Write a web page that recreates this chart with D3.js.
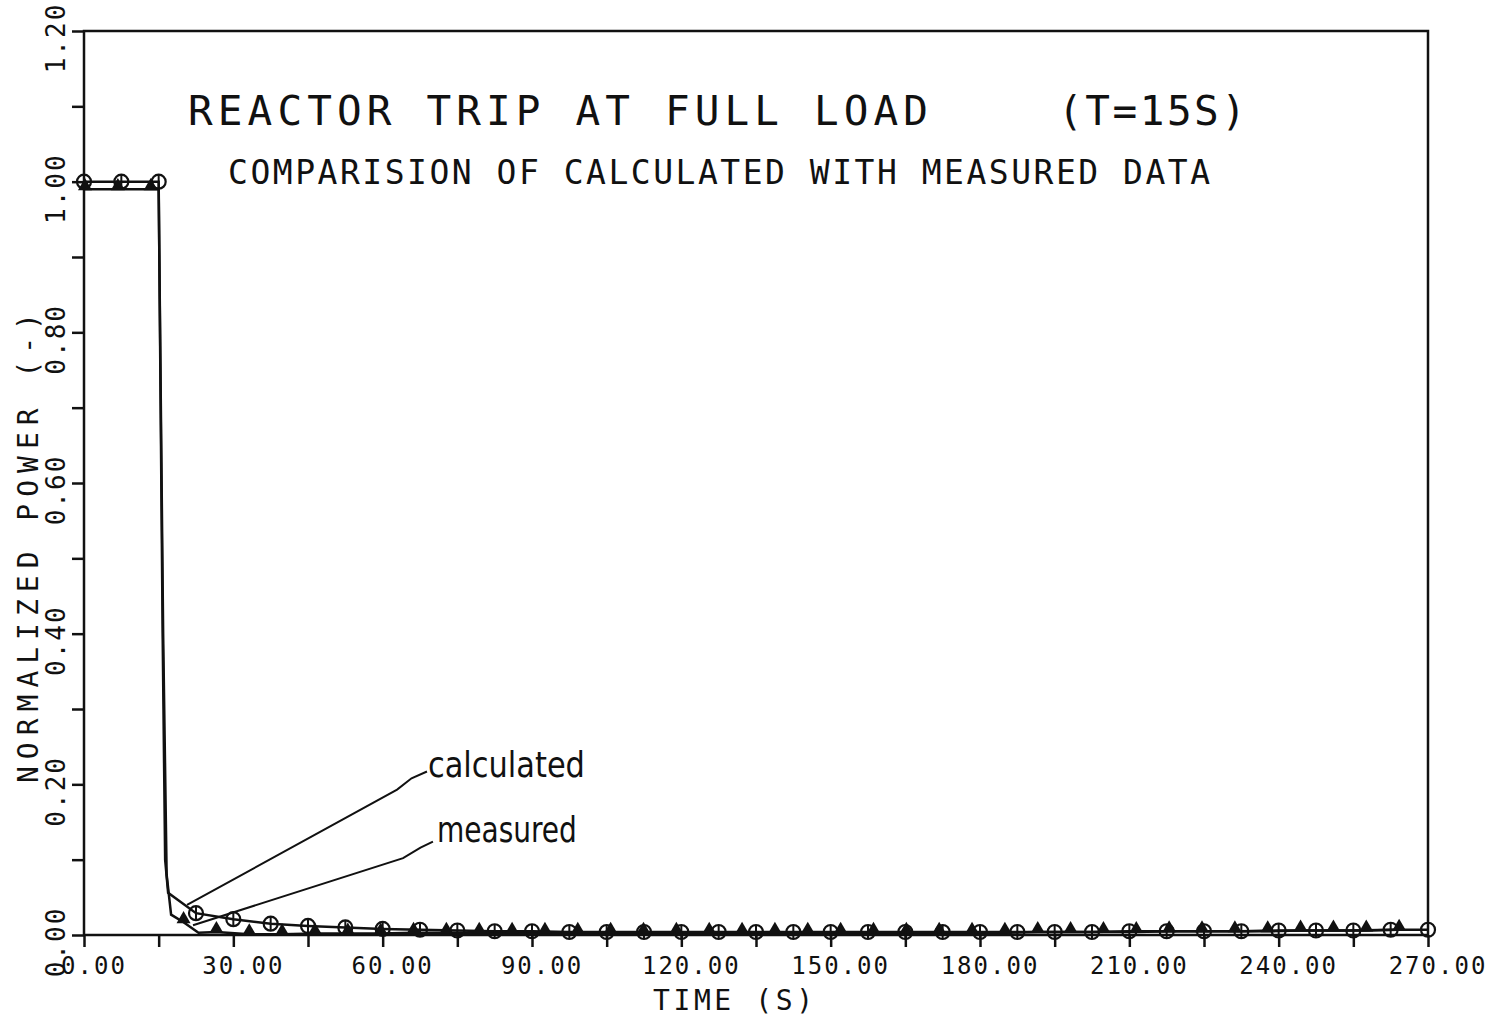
<!DOCTYPE html>
<html>
<head>
<meta charset="utf-8">
<script src="https://cdn.jsdelivr.net/npm/d3@7"></script>
<style>
  body { margin: 0; background: #fff; }
  svg { display: block; }
  text { font-family: "DejaVu Sans Mono", monospace; fill: #111; }
  .note { font-family: "DejaVu Sans Condensed", "DejaVu Sans", sans-serif; }
</style>
</head>
<body>
<div id="chart"></div>
<script>
// tick values / labels
var xTicks = [0, 15, 30, 45, 60, 75, 90, 105, 120, 135, 150, 165, 180, 195, 210, 225, 240, 255, 270];
var xLabelVals = [0, 30, 60, 90, 120, 150, 180, 210, 240, 270];
var xLabels = ["0.00", "30.00", "60.00", "90.00", "120.00", "150.00", "180.00", "210.00", "240.00", "270.00"];
var yTicks = [0, 0.1, 0.2, 0.3, 0.4, 0.5, 0.6, 0.7, 0.8, 0.9, 1.0, 1.1, 1.2];
var yLabelVals = [0, 0.2, 0.4, 0.6, 0.8, 1.0, 1.2];
var yLabels = ["0.00", "0.20", "0.40", "0.60", "0.80", "1.00", "1.20"];

// calculated power, circle samples every 7.5 s
var calcTime = [0, 7.5, 15, 22.5, 30, 37.5, 45, 52.5, 60, 67.5, 75, 82.5, 90, 97.5, 105, 112.5, 120, 127.5,
  135, 142.5, 150, 157.5, 165, 172.5, 180, 187.5, 195, 202.5, 210, 217.5, 225, 232.5, 240, 247.5, 255, 262.5, 270];
var calcPower = [1.0, 1.0, 1.0, 0.029, 0.021, 0.015, 0.012, 0.010, 0.008, 0.007, 0.006, 0.005, 0.005, 0.004, 0.004, 0.004, 0.004, 0.004,
  0.004, 0.004, 0.004, 0.004, 0.004, 0.004, 0.004, 0.004, 0.004, 0.004, 0.005, 0.005, 0.005, 0.005, 0.006, 0.006, 0.006, 0.007, 0.007];
// calculated curve during the trip (no markers)
var calcTripTime = [15.8, 16.3, 16.9];
var calcTripPower = [0.40, 0.10, 0.056];

// measured power, triangle samples
var measTime = [0.2, 6.8, 13.4, 20, 26.6, 33.2, 39.8, 46.4, 53, 59.6, 66.2, 72.8, 79.4, 86, 92.6, 99.2, 105.8, 112.4,
  119, 125.6, 132.2, 138.8, 145.4, 152, 158.6, 165.2, 171.8, 178.4, 185, 191.6, 198.2, 204.8, 211.4, 218, 224.6,
  231.2, 237.8, 244.4, 251, 257.6, 264.2];
var measPower = [0.99, 0.99, 0.99, 0.017, 0.004, 0.001, 0.001, 0.002, 0.002, 0.002, 0.003, 0.003, 0.003, 0.003, 0.003, 0.003, 0.003, 0.003,
  0.003, 0.003, 0.003, 0.003, 0.003, 0.003, 0.003, 0.003, 0.003, 0.003, 0.003, 0.004, 0.004, 0.004, 0.004, 0.005, 0.005,
  0.005, 0.005, 0.006, 0.006, 0.006, 0.007];
var measTripTime = [15, 15.9, 16.6, 17.5, 23];
var measTripPower = [0.99, 0.40, 0.08, 0.027, 0.003];

// leader lines of the two notes, in data units
var calcLeader = [[20.7, 0.040], [62.9, 0.193], [65.8, 0.208], [68.9, 0.217]];
var measLeader = [[21.9, 0.013], [64.1, 0.102], [67.6, 0.116], [70.1, 0.124]];

var width = 1507,
    height = 1021;

var svg = d3.select("#chart")
  .append("svg")
  .attr("width", width)
  .attr("height", height);

var x = d3.scaleLinear().domain([0, 270]).range([84, 1428]);
var y = d3.scaleLinear().domain([0, 1.2]).range([935, 31]);

// frame
svg.append("rect")
  .attr("x", x(0)).attr("y", y(1.2))
  .attr("width", x(270) - x(0)).attr("height", y(0) - y(1.2))
  .attr("fill", "none").attr("stroke", "#111").attr("stroke-width", 2.5);

// axes (ticks only)
var gx = svg.append("g")
  .attr("transform", "translate(0," + y(0) + ")")
  .call(d3.axisBottom(x).tickValues(xTicks).tickSize(12).tickFormat(""));
var gy = svg.append("g")
  .attr("transform", "translate(" + x(0) + ",0)")
  .call(d3.axisLeft(y).tickValues(yTicks).tickSize(12).tickFormat(""));
[gx, gy].forEach(function (g) {
  g.select(".domain").remove();
  g.selectAll("line").attr("stroke", "#111").attr("stroke-width", 2.5);
});

// x tick labels
svg.selectAll(".xlab")
  .data(xLabelVals)
  .enter().append("text")
  .attr("class", "xlab")
  .attr("x", function (d) { return x(d) + 10 })
  .attr("y", 974)
  .attr("text-anchor", "middle")
  .attr("font-size", 24)
  .attr("letter-spacing", 2)
  .text(function (d, i) { return xLabels[i] });

// y tick labels, rotated
svg.selectAll(".ylab")
  .data(yLabelVals)
  .enter().append("text")
  .attr("class", "ylab")
  .attr("transform", function (d) { return "translate(65," + (y(d) + 7) + ") rotate(-90)" })
  .attr("text-anchor", "middle")
  .attr("font-size", 26)
  .attr("letter-spacing", 2)
  .text(function (d, i) { return yLabels[i] });

// axis titles
svg.append("text")
  .attr("x", 733).attr("y", 1010)
  .attr("text-anchor", "middle")
  .attr("font-size", 28)
  .attr("textLength", 160).attr("lengthAdjust", "spacing")
  .text("TIME (S)");

svg.append("text")
  .attr("transform", "translate(38,548) rotate(-90)")
  .attr("text-anchor", "middle")
  .attr("font-size", 28)
  .attr("textLength", 470).attr("lengthAdjust", "spacing")
  .text("NORMALIZED POWER (-)");

// titles
svg.append("text")
  .attr("x", 188).attr("y", 125)
  .attr("font-size", 41)
  .attr("textLength", 740).attr("lengthAdjust", "spacing")
  .text("REACTOR TRIP AT FULL LOAD");
svg.append("text")
  .attr("x", 1058).attr("y", 125)
  .attr("font-size", 41)
  .attr("textLength", 188).attr("lengthAdjust", "spacing")
  .text("(T=15S)");
svg.append("text")
  .attr("x", 228).attr("y", 184)
  .attr("font-size", 33)
  .attr("textLength", 982).attr("lengthAdjust", "spacing")
  .text("COMPARISION OF CALCULATED WITH MEASURED DATA");

// build curves
function merge(t1, p1, t2, p2) {
  var pts = t1.map(function (t, i) { return [t, p1[i]] })
    .concat(t2.map(function (t, i) { return [t, p2[i]] }));
  return pts.sort(function (a, b) { return a[0] - b[0] });
}
var line = d3.line()
  .x(function (d) { return x(d[0]) })
  .y(function (d) { return y(d[1]) });

svg.append("path")
  .datum(merge(measTime, measPower, measTripTime, measTripPower))
  .attr("d", line)
  .attr("fill", "none").attr("stroke", "#111").attr("stroke-width", 2.5);

svg.append("path")
  .datum(merge(calcTime, calcPower, calcTripTime, calcTripPower))
  .attr("d", line)
  .attr("fill", "none").attr("stroke", "#111").attr("stroke-width", 2.5);

// measured markers: filled triangles
svg.selectAll(".tri")
  .data(measTime)
  .enter().append("path")
  .attr("class", "tri")
  .attr("transform", function (d, i) { return "translate(" + x(d) + "," + (y(measPower[i]) - 3) + ")" })
  .attr("d", d3.symbol().type(d3.symbolTriangle).size(85))
  .attr("fill", "#111");

// calculated markers: open circles with a vertical stroke
var circ = svg.selectAll(".circ")
  .data(calcTime)
  .enter().append("g")
  .attr("class", "circ")
  .attr("transform", function (d, i) { return "translate(" + x(d) + "," + y(calcPower[i]) + ")" });
circ.append("circle")
  .attr("r", 7)
  .attr("fill", "none").attr("stroke", "#111").attr("stroke-width", 2.2);
circ.append("line")
  .attr("y1", -7).attr("y2", 7)
  .attr("stroke", "#111").attr("stroke-width", 2);

// annotations
[calcLeader, measLeader].forEach(function (pts) {
  svg.append("path")
    .datum(pts)
    .attr("d", line)
    .attr("fill", "none").attr("stroke", "#111").attr("stroke-width", 2);
});

svg.append("text")
  .attr("class", "note")
  .attr("x", x(69.1)).attr("y", y(0.21))
  .attr("font-size", 36)
  .attr("textLength", 157).attr("lengthAdjust", "spacingAndGlyphs")
  .text("calculated");
svg.append("text")
  .attr("class", "note")
  .attr("x", x(70.9)).attr("y", y(0.124))
  .attr("font-size", 36)
  .attr("textLength", 140).attr("lengthAdjust", "spacingAndGlyphs")
  .text("measured");
</script>
</body>
</html>
